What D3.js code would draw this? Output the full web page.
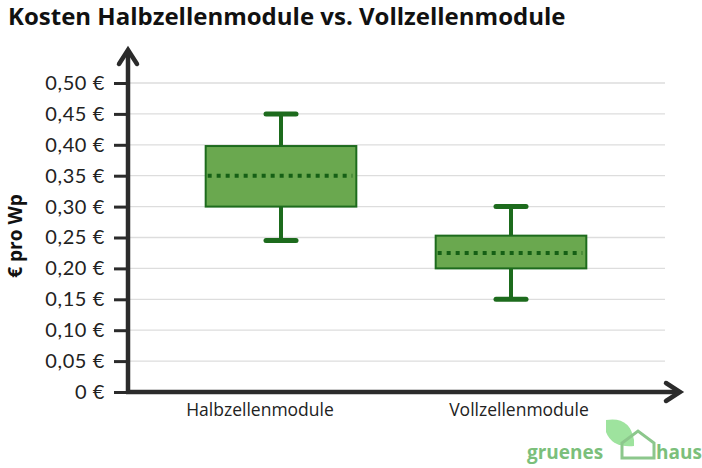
<!DOCTYPE html><html><head><meta charset="utf-8"><script src="https://cdn.jsdelivr.net/npm/d3@7"></script>
<style>body{margin:0;background:#fff}</style></head><body><svg id="c" width="702" height="468"></svg>
<script>
const categories=["Halbzellenmodule","Vollzellenmodule"];
const whiskerLow=[0.245,0.15];
const q1=[0.30,0.20];
const median=[0.35,0.225];
const q3=[0.398,0.253];
const whiskerHigh=[0.45,0.30];
const yTicks=[0,0.05,0.10,0.15,0.20,0.25,0.30,0.35,0.40,0.45,0.50];
const svg=d3.select("#c");
const y=d3.scaleLinear().domain([0,0.5]).range([392,83]);
const x=d3.scaleBand().domain(categories).range([166,626]);
const xl=d3.scaleBand().domain(categories).range([130.5,648.5]);
const fmt=v=>v===0?"0 €":d3.format(".2f")(v).replace(".",",")+" €";
const font="'Open Sans',sans-serif";
svg.append("g").selectAll("line").data(yTicks.slice(1)).join("line")
 .attr("x1",130).attr("x2",665).attr("y1",d=>y(d)).attr("y2",d=>y(d)).attr("stroke","#ddd").attr("stroke-width",1.3);
const ax=svg.append("g").attr("transform","translate(128,0)").call(d3.axisLeft(y).tickValues(yTicks).tickFormat(fmt).tickSize(14).tickPadding(9));
ax.select(".domain").remove();
ax.selectAll(".tick line").attr("stroke","#2b2b2b").attr("stroke-width",3);
ax.selectAll(".tick text").attr("font-family","Lato,sans-serif").attr("font-size",20).attr("letter-spacing",0.6).attr("fill","#222");
const ac="#2b2b2b";
svg.append("line").attr("x1",128).attr("x2",128).attr("y1",394).attr("y2",52).attr("stroke",ac).attr("stroke-width",4.5);
svg.append("path").attr("d","M119,64 L128,50 L137,64").attr("fill","none").attr("stroke",ac).attr("stroke-width",4.5).attr("stroke-linecap","round");
svg.append("line").attr("x1",126).attr("x2",676).attr("y1",392).attr("y2",392).attr("stroke",ac).attr("stroke-width",4.5);
svg.append("path").attr("d","M666,383 L680,392 L666,401").attr("fill","none").attr("stroke",ac).attr("stroke-width",4.5).attr("stroke-linecap","round");
const bw=x.bandwidth()*0.655, cw=38;
categories.forEach((c,i)=>{
 const cx=x(c)+x.bandwidth()/2, g=svg.append("g"), col="#1d6b1d";
 g.append("line").attr("x1",cx).attr("x2",cx).attr("y1",y(whiskerHigh[i])).attr("y2",y(whiskerLow[i])).attr("stroke",col).attr("stroke-width",4);
 [whiskerHigh[i],whiskerLow[i]].forEach(v=>g.append("line").attr("x1",cx-cw/2+4).attr("x2",cx+cw/2-4).attr("y1",y(v)).attr("y2",y(v)).attr("stroke",col).attr("stroke-width",5).attr("stroke-linecap","round"));
 g.append("rect").attr("x",cx-bw/2).attr("width",bw).attr("y",y(q3[i])).attr("height",y(q1[i])-y(q3[i])).attr("fill","#6aa84f").attr("stroke",col).attr("stroke-width",2);
 g.append("line").attr("x1",cx-bw/2+2).attr("x2",cx+bw/2-4).attr("y1",y(median[i])).attr("y2",y(median[i])).attr("stroke","#156015").attr("stroke-width",4).attr("stroke-dasharray","4,5");
 svg.append("text").attr("x",xl(c)+xl.bandwidth()/2).attr("y",416).attr("text-anchor","middle").attr("font-family",font).attr("font-size",17.5).attr("fill","#222").text(c);
});
svg.append("text").attr("x",8).attr("y",25).attr("font-family",font).attr("font-weight",700).attr("font-size",24).attr("fill","#111").text("Kosten Halbzellenmodule vs. Vollzellenmodule");
svg.append("text").attr("transform","translate(22,236) rotate(-90)").attr("text-anchor","middle").attr("font-family",font).attr("font-weight",700).attr("font-size",19).attr("fill","#111").text("€ pro Wp");
// logo
svg.append("path").attr("d","M606,420 Q630,416 634,440 L634,446 Q612,448 606,432 Z").attr("fill","#9ee39e");
svg.append("path").attr("d","M622,458 L622,443 L638,431 L654,443 L654,458 Z").attr("fill","none").attr("stroke","#8cc78c").attr("stroke-width",3);
svg.append("text").attr("x",527).attr("y",459).attr("font-family",font).attr("font-weight",700).attr("font-size",19).attr("fill","#7bbf7b").text("gruenes");
svg.append("text").attr("x",656).attr("y",459).attr("font-family",font).attr("font-weight",700).attr("font-size",19).attr("fill","#7bbf7b").text("haus");
</script></body></html>
